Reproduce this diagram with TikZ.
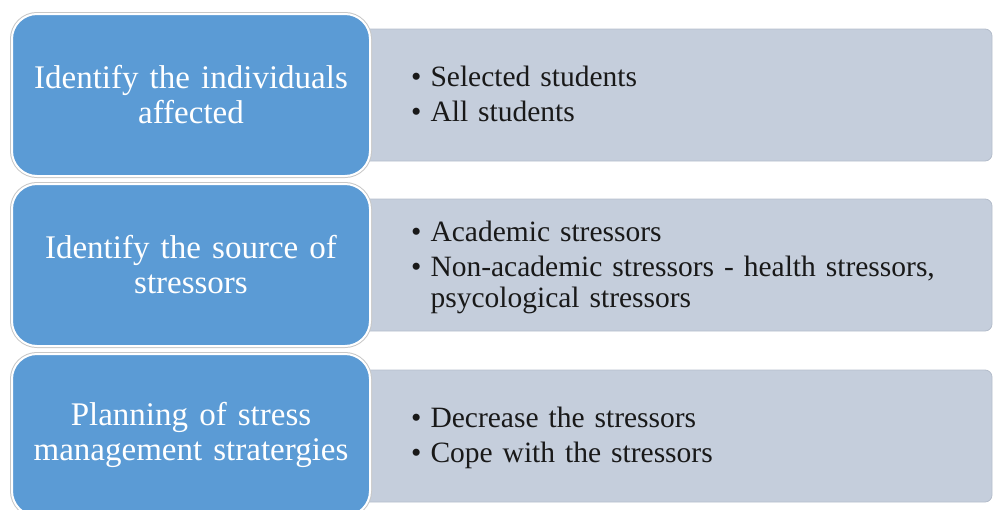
\documentclass[tikz,border=0pt]{standalone}
\usepackage{fontspec}
\setmainfont[WordSpace=1.35]{Liberation Serif}
\usetikzlibrary{positioning}
\definecolor{stepblue}{HTML}{5B9BD5}
\definecolor{itemgray}{HTML}{C5CEDC}
\definecolor{itemedge}{HTML}{B4BDCB}
\definecolor{shadowgray}{HTML}{C8C8C8}
\tikzset{
  stepbox/.style={preaction={draw=shadowgray, line width=4pt},
    fill=stepblue, draw=white, line width=2pt, rounded corners=25pt,
    minimum width=358pt, minimum height=162pt, inner sep=0pt,
    text=white, align=center, font=\fontsize{33}{35}\selectfont},
  itembox/.style={fill=itemgray, draw=itemedge, line width=0.8pt, rounded corners=7pt,
    minimum width=632pt, minimum height=132pt, inner sep=0pt},
  itemtext/.style={anchor=west, inner sep=0pt, text=black!90, font=\fontsize{29.5}{31}\selectfont}
}
\begin{document}
\begin{tikzpicture}[x=1pt,y=-1pt]
\useasboundingbox (0,0) rectangle (993,509);
\clip (0,0) rectangle (993,509);
% gray boxes
\node[itembox] (g1) at (676,95) {};
\node[itembox] (g2) at (676,265) {};
\node[itembox] (g3) at (676,436) {};
% blue boxes
\node[stepbox] (b1) at (191,95) {Identify the individuals\\affected};
\node[stepbox] (b2) at (191,265) {Identify the source of\\stressors};
\node[stepbox] (b3) at (191,435) {Planning of stress\\management stratergies};
% item texts
\node[itemtext] (t1) at (411,98) {\begin{tabular}{@{}l@{\hspace{9pt}}l@{}}
• & Selected students\\[4pt]
• & All students
\end{tabular}};
\node[itemtext] (t2) at (411,268) {\begin{tabular}{@{}l@{\hspace{9pt}}l@{}}
• & Academic stressors\\[4pt]
• & Non-academic stressors - health stressors,\\
 & psycological stressors
\end{tabular}};
\node[itemtext] (t3) at (411,439) {\begin{tabular}{@{}l@{\hspace{9pt}}l@{}}
• & Decrease the stressors\\[4pt]
• & Cope with the stressors
\end{tabular}};
\end{tikzpicture}
\end{document}
